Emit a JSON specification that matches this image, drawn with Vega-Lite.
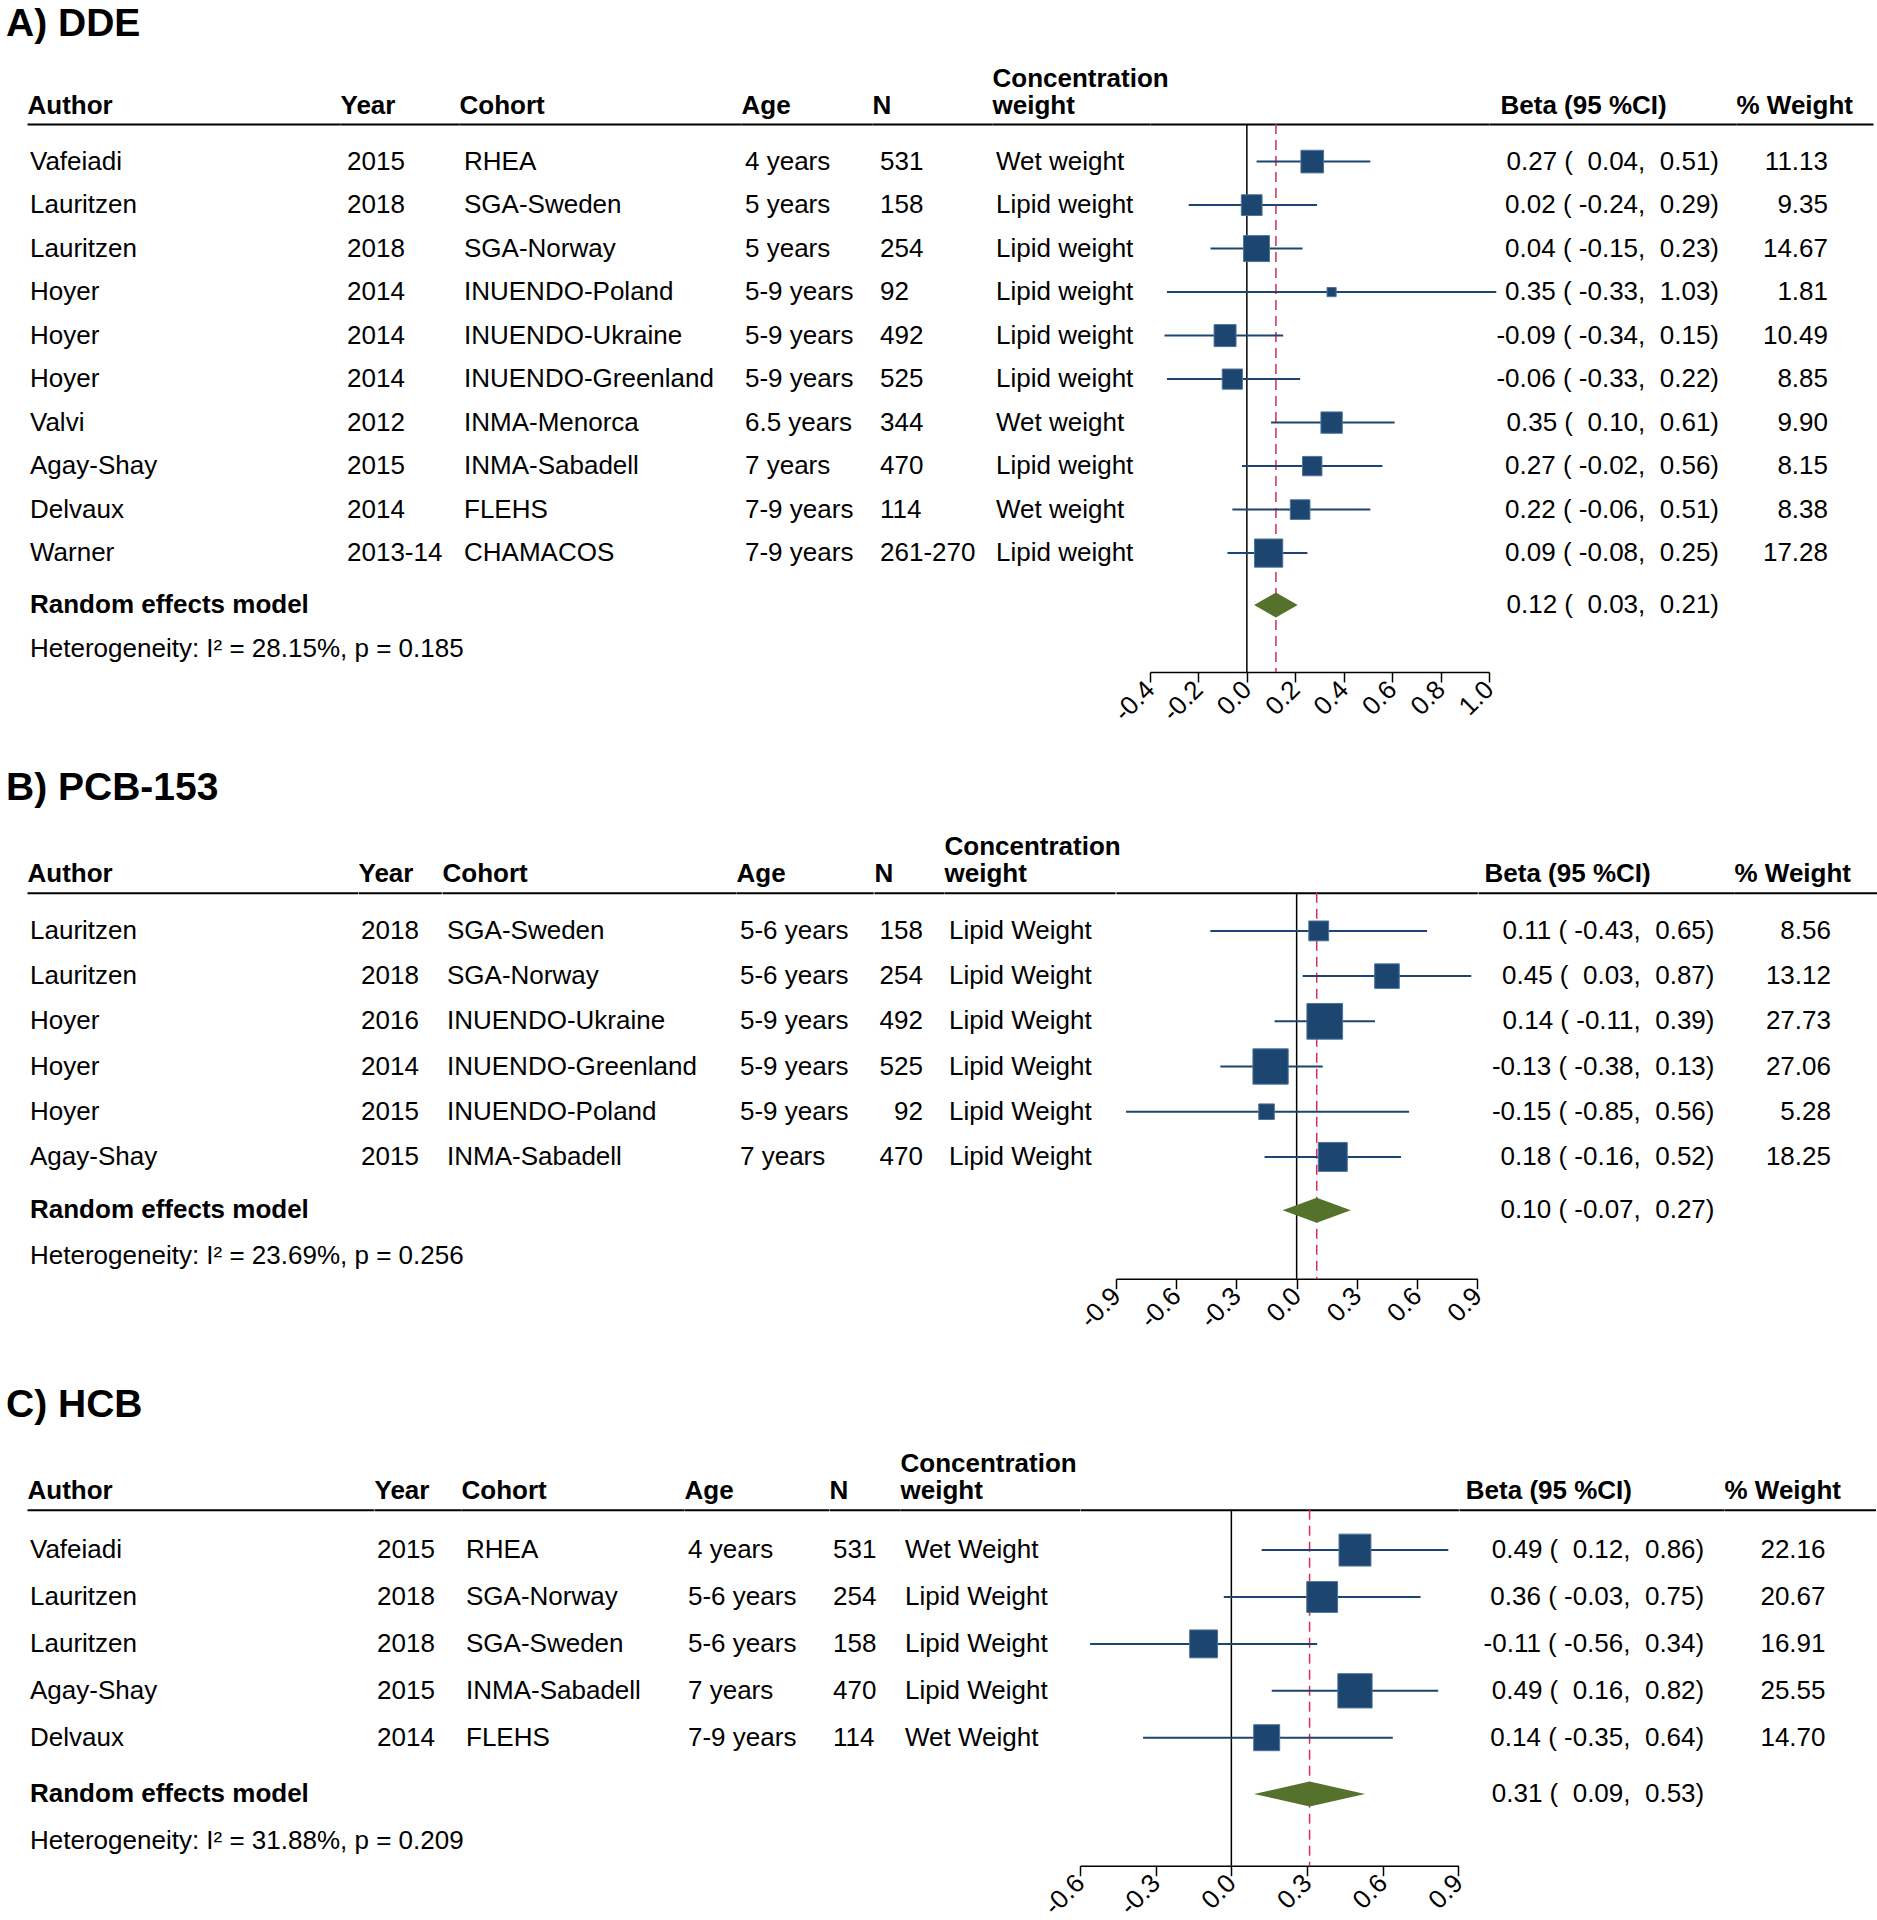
{
"$schema": "https://vega.github.io/schema/vega-lite/v6.json",
"background": "white",
"padding": {"left": 6, "top": 5, "right": 4, "bottom": 0},
"config": {
 "view": {"stroke": null},
 "font": "Liberation Sans",
 "text": {"font": "Liberation Sans", "fontSize": 26, "color": "#000000", "baseline": "middle"},
 "title": {"anchor": "start", "font": "Liberation Sans", "fontSize": 39, "fontWeight": "bold", "color": "#000000", "dx": -21, "baseline": "alphabetic", "frame": "bounds"},
 "axisTop": {"domainColor": "#000000", "domainWidth": 2, "ticks": false, "labels": false, "grid": false, "titleFont": "Liberation Sans", "titleFontSize": 26, "titleFontWeight": "bold", "titleColor": "#000000", "titleAnchor": "start", "titleAlign": "left", "titleBaseline": "bottom", "titlePadding": 6, "titleLineHeight": 27},
 "axisBottom": {"domainColor": "#000000", "domainWidth": 1.5, "tickColor": "#000000", "tickWidth": 1.5, "tickSize": 10, "labelFont": "Liberation Sans", "labelFontSize": 26, "labelColor": "#000000", "labelPadding": 3, "grid": false, "labelFlush": false, "labelOverlap": false, "labelBound": false}
},
"datasets": {
 "A": [
  {"row":"1","author":"Vafeiadi","year":"2015","cohort":"RHEA","age":"4 years","n":"531","conc":"Wet weight","est":0.27,"lo":0.04,"hi":0.51,"beta":"0.27\u00a0(\u00a0\u00a00.04,\u00a0\u00a00.51)","w":11.13},
  {"row":"2","author":"Lauritzen","year":"2018","cohort":"SGA-Sweden","age":"5 years","n":"158","conc":"Lipid weight","est":0.02,"lo":-0.24,"hi":0.29,"beta":"0.02\u00a0(\u00a0-0.24,\u00a0\u00a00.29)","w":9.35},
  {"row":"3","author":"Lauritzen","year":"2018","cohort":"SGA-Norway","age":"5 years","n":"254","conc":"Lipid weight","est":0.04,"lo":-0.15,"hi":0.23,"beta":"0.04\u00a0(\u00a0-0.15,\u00a0\u00a00.23)","w":14.67},
  {"row":"4","author":"Hoyer","year":"2014","cohort":"INUENDO-Poland","age":"5-9 years","n":"92","conc":"Lipid weight","est":0.35,"lo":-0.33,"hi":1.03,"beta":"0.35\u00a0(\u00a0-0.33,\u00a0\u00a01.03)","w":1.81},
  {"row":"5","author":"Hoyer","year":"2014","cohort":"INUENDO-Ukraine","age":"5-9 years","n":"492","conc":"Lipid weight","est":-0.09,"lo":-0.34,"hi":0.15,"beta":"-0.09\u00a0(\u00a0-0.34,\u00a0\u00a00.15)","w":10.49},
  {"row":"6","author":"Hoyer","year":"2014","cohort":"INUENDO-Greenland","age":"5-9 years","n":"525","conc":"Lipid weight","est":-0.06,"lo":-0.33,"hi":0.22,"beta":"-0.06\u00a0(\u00a0-0.33,\u00a0\u00a00.22)","w":8.85},
  {"row":"7","author":"Valvi","year":"2012","cohort":"INMA-Menorca","age":"6.5 years","n":"344","conc":"Wet weight","est":0.35,"lo":0.10,"hi":0.61,"beta":"0.35\u00a0(\u00a0\u00a00.10,\u00a0\u00a00.61)","w":9.90},
  {"row":"8","author":"Agay-Shay","year":"2015","cohort":"INMA-Sabadell","age":"7 years","n":"470","conc":"Lipid weight","est":0.27,"lo":-0.02,"hi":0.56,"beta":"0.27\u00a0(\u00a0-0.02,\u00a0\u00a00.56)","w":8.15},
  {"row":"9","author":"Delvaux","year":"2014","cohort":"FLEHS","age":"7-9 years","n":"114","conc":"Wet weight","est":0.22,"lo":-0.06,"hi":0.51,"beta":"0.22\u00a0(\u00a0-0.06,\u00a0\u00a00.51)","w":8.38},
  {"row":"10","author":"Warner","year":"2013-14","cohort":"CHAMACOS","age":"7-9 years","n":"261-270","conc":"Lipid weight","est":0.09,"lo":-0.08,"hi":0.25,"beta":"0.09\u00a0(\u00a0-0.08,\u00a0\u00a00.25)","w":17.28},
  {"row":"RE","author":"Random effects model","est":0.12,"lo":0.03,"hi":0.21,"beta":"0.12\u00a0(\u00a0\u00a00.03,\u00a0\u00a00.21)"},
  {"row":"het","author":"Heterogeneity: I² = 28.15%, p = 0.185"}
 ],
 "B": [
  {"row":"1","author":"Lauritzen","year":"2018","cohort":"SGA-Sweden","age":"5-6 years","n":"158","conc":"Lipid Weight","est":0.11,"lo":-0.43,"hi":0.65,"beta":"0.11\u00a0(\u00a0-0.43,\u00a0\u00a00.65)","w":8.56},
  {"row":"2","author":"Lauritzen","year":"2018","cohort":"SGA-Norway","age":"5-6 years","n":"254","conc":"Lipid Weight","est":0.45,"lo":0.03,"hi":0.87,"beta":"0.45\u00a0(\u00a0\u00a00.03,\u00a0\u00a00.87)","w":13.12},
  {"row":"3","author":"Hoyer","year":"2016","cohort":"INUENDO-Ukraine","age":"5-9 years","n":"492","conc":"Lipid Weight","est":0.14,"lo":-0.11,"hi":0.39,"beta":"0.14\u00a0(\u00a0-0.11,\u00a0\u00a00.39)","w":27.73},
  {"row":"4","author":"Hoyer","year":"2014","cohort":"INUENDO-Greenland","age":"5-9 years","n":"525","conc":"Lipid Weight","est":-0.13,"lo":-0.38,"hi":0.13,"beta":"-0.13\u00a0(\u00a0-0.38,\u00a0\u00a00.13)","w":27.06},
  {"row":"5","author":"Hoyer","year":"2015","cohort":"INUENDO-Poland","age":"5-9 years","n":"92","conc":"Lipid Weight","est":-0.15,"lo":-0.85,"hi":0.56,"beta":"-0.15\u00a0(\u00a0-0.85,\u00a0\u00a00.56)","w":5.28},
  {"row":"6","author":"Agay-Shay","year":"2015","cohort":"INMA-Sabadell","age":"7 years","n":"470","conc":"Lipid Weight","est":0.18,"lo":-0.16,"hi":0.52,"beta":"0.18\u00a0(\u00a0-0.16,\u00a0\u00a00.52)","w":18.25},
  {"row":"RE","author":"Random effects model","est":0.10,"lo":-0.07,"hi":0.27,"beta":"0.10\u00a0(\u00a0-0.07,\u00a0\u00a00.27)"},
  {"row":"het","author":"Heterogeneity: I² = 23.69%, p = 0.256"}
 ],
 "C": [
  {"row":"1","author":"Vafeiadi","year":"2015","cohort":"RHEA","age":"4 years","n":"531","conc":"Wet Weight","est":0.49,"lo":0.12,"hi":0.86,"beta":"0.49\u00a0(\u00a0\u00a00.12,\u00a0\u00a00.86)","w":22.16},
  {"row":"2","author":"Lauritzen","year":"2018","cohort":"SGA-Norway","age":"5-6 years","n":"254","conc":"Lipid Weight","est":0.36,"lo":-0.03,"hi":0.75,"beta":"0.36\u00a0(\u00a0-0.03,\u00a0\u00a00.75)","w":20.67},
  {"row":"3","author":"Lauritzen","year":"2018","cohort":"SGA-Sweden","age":"5-6 years","n":"158","conc":"Lipid Weight","est":-0.11,"lo":-0.56,"hi":0.34,"beta":"-0.11\u00a0(\u00a0-0.56,\u00a0\u00a00.34)","w":16.91},
  {"row":"4","author":"Agay-Shay","year":"2015","cohort":"INMA-Sabadell","age":"7 years","n":"470","conc":"Lipid Weight","est":0.49,"lo":0.16,"hi":0.82,"beta":"0.49\u00a0(\u00a0\u00a00.16,\u00a0\u00a00.82)","w":25.55},
  {"row":"5","author":"Delvaux","year":"2014","cohort":"FLEHS","age":"7-9 years","n":"114","conc":"Wet Weight","est":0.14,"lo":-0.35,"hi":0.64,"beta":"0.14\u00a0(\u00a0-0.35,\u00a0\u00a00.64)","w":14.70},
  {"row":"RE","author":"Random effects model","est":0.31,"lo":0.09,"hi":0.53,"beta":"0.31\u00a0(\u00a0\u00a00.09,\u00a0\u00a00.53)"},
  {"row":"het","author":"Heterogeneity: I² = 31.88%, p = 0.209"}
 ]
},
"spacing": 42.7,
"vconcat": [
 {
  "title": {"text": "A) DDE", "offset": 21},
  "bounds": "flush",
  "spacing": 0,
  "hconcat": [
   {"width": 313, "height": 548, "data": {"name": "A"},
    "encoding": {"x": {"datum": 0, "type": "quantitative", "scale": {"domain": [0, 1]}, "axis": {"orient": "top", "title": ["", "Author"]}},
     "text": {"field": "author", "type": "nominal"}},
    "layer": [
     {"transform": [{"filter": "datum.row != 'RE' && datum.row != 'het'"}], "mark": {"type": "text", "align": "left", "dx": 3},
      "encoding": {"y": {"field": "row", "type": "nominal", "scale": {"type": "point", "domain": ["1","2","3","4","5","6","7","8","9","10","RE","het"], "padding": 0.799, "align": 0.541}, "axis": null}}},
     {"transform": [{"filter": "datum.row == 'RE'"}], "mark": {"type": "text", "align": "left", "dx": 3, "fontWeight": "bold"},
      "encoding": {"y": {"field": "row", "type": "nominal", "scale": {"type": "point", "domain": ["1","2","3","4","5","6","7","8","9","10","RE","het"], "padding": 0.727, "align": 0.641}, "axis": null}}},
     {"transform": [{"filter": "datum.row == 'het'"}], "mark": {"type": "text", "align": "left", "dx": 3},
      "encoding": {"y": {"field": "row", "type": "nominal", "scale": {"type": "point", "domain": ["1","2","3","4","5","6","7","8","9","10","RE","het"], "padding": 0.727, "align": 0.641}, "axis": null}}}
    ],
    "resolve": {"scale": {"y": "independent"}}},
   {"width": 119, "height": 548, "data": {"name": "A"}, "transform": [{"filter": "isValid(datum.year)"}],
    "mark": {"type": "text", "align": "left", "dx": 7},
    "encoding": {"x": {"datum": 0, "type": "quantitative", "scale": {"domain": [0, 1]}, "axis": {"orient": "top", "title": ["", "Year"]}},
     "y": {"field": "row", "type": "nominal", "scale": {"type": "point", "domain": ["1","2","3","4","5","6","7","8","9","10","RE","het"], "padding": 0.799, "align": 0.541}, "axis": null},
     "text": {"field": "year", "type": "nominal"}}},
   {"width": 282, "height": 548, "data": {"name": "A"}, "transform": [{"filter": "isValid(datum.cohort)"}],
    "mark": {"type": "text", "align": "left", "dx": 5},
    "encoding": {"x": {"datum": 0, "type": "quantitative", "scale": {"domain": [0, 1]}, "axis": {"orient": "top", "title": ["", "Cohort"]}},
     "y": {"field": "row", "type": "nominal", "scale": {"type": "point", "domain": ["1","2","3","4","5","6","7","8","9","10","RE","het"], "padding": 0.799, "align": 0.541}, "axis": null},
     "text": {"field": "cohort", "type": "nominal"}}},
   {"width": 131, "height": 548, "data": {"name": "A"}, "transform": [{"filter": "isValid(datum.age)"}],
    "mark": {"type": "text", "align": "left", "dx": 4},
    "encoding": {"x": {"datum": 0, "type": "quantitative", "scale": {"domain": [0, 1]}, "axis": {"orient": "top", "title": ["", "Age"]}},
     "y": {"field": "row", "type": "nominal", "scale": {"type": "point", "domain": ["1","2","3","4","5","6","7","8","9","10","RE","het"], "padding": 0.799, "align": 0.541}, "axis": null},
     "text": {"field": "age", "type": "nominal"}}},
   {"width": 120, "height": 548, "data": {"name": "A"}, "transform": [{"filter": "isValid(datum.n)"}],
    "mark": {"type": "text", "align": "left", "dx": 8},
    "encoding": {"x": {"datum": 0, "type": "quantitative", "scale": {"domain": [0, 1]}, "axis": {"orient": "top", "title": ["", "N"]}},
     "y": {"field": "row", "type": "nominal", "scale": {"type": "point", "domain": ["1","2","3","4","5","6","7","8","9","10","RE","het"], "padding": 0.799, "align": 0.541}, "axis": null},
     "text": {"field": "n", "type": "nominal"}}},
   {"width": 158, "height": 548, "data": {"name": "A"}, "transform": [{"filter": "isValid(datum.conc)"}],
    "mark": {"type": "text", "align": "left", "dx": 4},
    "encoding": {"x": {"datum": 0, "type": "quantitative", "scale": {"domain": [0, 1]}, "axis": {"orient": "top", "title": ["Concentration", "weight"]}},
     "y": {"field": "row", "type": "nominal", "scale": {"type": "point", "domain": ["1","2","3","4","5","6","7","8","9","10","RE","het"], "padding": 0.799, "align": 0.541}, "axis": null},
     "text": {"field": "conc", "type": "nominal"}}},
   {"width": 339, "height": 548,
    "layer": [
     {"data": {"values": [{}]}, "mark": {"type": "rule", "color": "#000000", "strokeWidth": 1.5},
      "encoding": {"x": {"datum": 0, "type": "quantitative", "scale": {"domain": [-0.4, 1.0], "nice": false, "zero": false}, "axis": {"orient": "top", "title": null}}}},
     {"data": {"name": "A"}, "transform": [{"filter": "datum.row == 'RE'"}], "mark": {"type": "rule", "color": "#d62b5a", "strokeWidth": 1.5, "strokeDash": [10, 6]},
      "encoding": {"x": {"field": "est", "type": "quantitative", "scale": {"domain": [-0.4, 1.0], "nice": false, "zero": false}, "axis": null}}},
     {"data": {"name": "A"}, "transform": [{"filter": "isValid(datum.w)"}], "mark": {"type": "rule", "color": "#1c4670", "strokeWidth": 2},
      "encoding": {"x": {"field": "lo", "type": "quantitative", "scale": {"domain": [-0.4, 1.0], "nice": false, "zero": false},
        "axis": {"orient": "bottom", "title": null, "values": [-0.4, -0.2, 0, 0.2, 0.4, 0.6, 0.8, 1.0], "labelExpr": "replace(format(datum.value, '.1f'), '\u2212', '-')", "labelAngle": -45, "labelAlign": "right", "labelBaseline": "middle"}},
       "x2": {"field": "hi"},
       "y": {"field": "row", "type": "nominal", "scale": {"type": "point", "domain": ["1","2","3","4","5","6","7","8","9","10","RE","het"], "padding": 0.799, "align": 0.541}, "axis": null}}},
     {"data": {"name": "A"}, "transform": [{"filter": "isValid(datum.w)"}], "mark": {"type": "square", "filled": true, "color": "#1c4670", "opacity": 1, "stroke": "#4d739b", "strokeWidth": 1},
      "encoding": {"x": {"field": "est", "type": "quantitative", "scale": {"domain": [-0.4, 1.0], "nice": false, "zero": false}, "axis": null},
       "y": {"field": "row", "type": "nominal", "scale": {"type": "point", "domain": ["1","2","3","4","5","6","7","8","9","10","RE","het"], "padding": 0.799, "align": 0.541}, "axis": null},
       "size": {"field": "w", "type": "quantitative", "scale": {"domain": [0, 100], "range": [0, 4600]}, "legend": null}}},
     {"data": {"name": "A"}, "transform": [{"filter": "datum.row == 'RE'"}], "mark": {"type": "point", "shape": "M-1,0L0,-0.573L1,0L0,0.573Z", "size": 1901, "filled": true, "color": "#55722c", "opacity": 1},
      "encoding": {"x": {"field": "est", "type": "quantitative", "scale": {"domain": [-0.4, 1.0], "nice": false, "zero": false}, "axis": null},
       "y": {"field": "row", "type": "nominal", "scale": {"type": "point", "domain": ["1","2","3","4","5","6","7","8","9","10","RE","het"], "padding": 0.727, "align": 0.641}, "axis": null}}}
    ],
    "resolve": {"scale": {"y": "independent"}, "axis": {"x": "independent"}}},
   {"width": 247, "height": 548, "data": {"name": "A"},
    "encoding": {"x": {"datum": 0.9312, "type": "quantitative", "scale": {"domain": [0, 1]}, "axis": {"orient": "top", "title": ["", "Beta (95 %CI)"], "titleX": 11}},
     "text": {"field": "beta", "type": "nominal"}},
    "layer": [
     {"transform": [{"filter": "isValid(datum.w)"}], "mark": {"type": "text", "align": "right"},
      "encoding": {"y": {"field": "row", "type": "nominal", "scale": {"type": "point", "domain": ["1","2","3","4","5","6","7","8","9","10","RE","het"], "padding": 0.799, "align": 0.541}, "axis": null}}},
     {"transform": [{"filter": "datum.row == 'RE'"}], "mark": {"type": "text", "align": "right"},
      "encoding": {"y": {"field": "row", "type": "nominal", "scale": {"type": "point", "domain": ["1","2","3","4","5","6","7","8","9","10","RE","het"], "padding": 0.727, "align": 0.641}, "axis": null}}}
    ],
    "resolve": {"scale": {"y": "independent"}}},
   {"width": 137, "height": 548, "data": {"name": "A"}, "transform": [{"filter": "isValid(datum.w)"}],
    "mark": {"type": "text", "align": "right"},
    "encoding": {"x": {"datum": 0.6715, "type": "quantitative", "scale": {"domain": [0, 1]}, "axis": {"orient": "top", "title": ["", "% Weight"]}},
     "y": {"field": "row", "type": "nominal", "scale": {"type": "point", "domain": ["1","2","3","4","5","6","7","8","9","10","RE","het"], "padding": 0.799, "align": 0.541}, "axis": null},
     "text": {"field": "w", "type": "quantitative", "format": ".2f"}}}
  ]
 },
 {
  "spacing": 53,
  "vconcat": [
   {
    "title": {"text": "B) PCB-153", "offset": 26},
    "bounds": "flush",
    "spacing": 0,
    "hconcat": [
     {"width": 330.5, "height": 386, "data": {"name": "B"},
      "encoding": {"x": {"datum": 0, "type": "quantitative", "scale": {"domain": [0, 1]}, "axis": {"orient": "top", "title": ["", "Author"]}},
       "text": {"field": "author", "type": "nominal"}},
      "layer": [
       {"transform": [{"filter": "datum.row != 'RE' && datum.row != 'het'"}], "mark": {"type": "text", "align": "left", "dx": 3},
        "encoding": {"y": {"field": "row", "type": "nominal", "scale": {"type": "point", "domain": ["1","2","3","4","5","6","RE","het"], "padding": 0.770, "align": 0.549}, "axis": null}}},
       {"transform": [{"filter": "datum.row == 'RE'"}], "mark": {"type": "text", "align": "left", "dx": 3, "fontWeight": "bold"},
        "encoding": {"y": {"field": "row", "type": "nominal", "scale": {"type": "point", "domain": ["1","2","3","4","5","6","RE","het"], "padding": 0.714, "align": 0.653}, "axis": null}}},
       {"transform": [{"filter": "datum.row == 'het'"}], "mark": {"type": "text", "align": "left", "dx": 3},
        "encoding": {"y": {"field": "row", "type": "nominal", "scale": {"type": "point", "domain": ["1","2","3","4","5","6","RE","het"], "padding": 0.714, "align": 0.653}, "axis": null}}}
      ],
      "resolve": {"scale": {"y": "independent"}}},
     {"width": 83.3, "height": 386, "data": {"name": "B"}, "transform": [{"filter": "isValid(datum.year)"}],
      "mark": {"type": "text", "align": "left", "dx": 3},
      "encoding": {"x": {"datum": 0, "type": "quantitative", "scale": {"domain": [0, 1]}, "axis": {"orient": "top", "title": ["", "Year"]}},
       "y": {"field": "row", "type": "nominal", "scale": {"type": "point", "domain": ["1","2","3","4","5","6","RE","het"], "padding": 0.770, "align": 0.549}, "axis": null},
       "text": {"field": "year", "type": "nominal"}}},
     {"width": 293.8, "height": 386, "data": {"name": "B"}, "transform": [{"filter": "isValid(datum.cohort)"}],
      "mark": {"type": "text", "align": "left", "dx": 5},
      "encoding": {"x": {"datum": 0, "type": "quantitative", "scale": {"domain": [0, 1]}, "axis": {"orient": "top", "title": ["", "Cohort"]}},
       "y": {"field": "row", "type": "nominal", "scale": {"type": "point", "domain": ["1","2","3","4","5","6","RE","het"], "padding": 0.770, "align": 0.549}, "axis": null},
       "text": {"field": "cohort", "type": "nominal"}}},
     {"width": 137.2, "height": 386, "data": {"name": "B"}, "transform": [{"filter": "isValid(datum.age)"}],
      "mark": {"type": "text", "align": "left", "dx": 4},
      "encoding": {"x": {"datum": 0, "type": "quantitative", "scale": {"domain": [0, 1]}, "axis": {"orient": "top", "title": ["", "Age"]}},
       "y": {"field": "row", "type": "nominal", "scale": {"type": "point", "domain": ["1","2","3","4","5","6","RE","het"], "padding": 0.770, "align": 0.549}, "axis": null},
       "text": {"field": "age", "type": "nominal"}}},
     {"width": 69.8, "height": 386, "data": {"name": "B"}, "transform": [{"filter": "isValid(datum.n)"}],
      "mark": {"type": "text", "align": "right"},
      "encoding": {"x": {"datum": 0.702, "type": "quantitative", "scale": {"domain": [0, 1]}, "axis": {"orient": "top", "title": ["", "N"]}},
       "y": {"field": "row", "type": "nominal", "scale": {"type": "point", "domain": ["1","2","3","4","5","6","RE","het"], "padding": 0.770, "align": 0.549}, "axis": null},
       "text": {"field": "n", "type": "nominal"}}},
     {"width": 171.1, "height": 386, "data": {"name": "B"}, "transform": [{"filter": "isValid(datum.conc)"}],
      "mark": {"type": "text", "align": "left", "dx": 5},
      "encoding": {"x": {"datum": 0, "type": "quantitative", "scale": {"domain": [0, 1]}, "axis": {"orient": "top", "title": ["Concentration", "weight"]}},
       "y": {"field": "row", "type": "nominal", "scale": {"type": "point", "domain": ["1","2","3","4","5","6","RE","het"], "padding": 0.770, "align": 0.549}, "axis": null},
       "text": {"field": "conc", "type": "nominal"}}},
     {"width": 361.3, "height": 386,
      "layer": [
       {"data": {"values": [{}]}, "mark": {"type": "rule", "color": "#000000", "strokeWidth": 1.5},
        "encoding": {"x": {"datum": 0, "type": "quantitative", "scale": {"domain": [-0.9, 0.9], "nice": false, "zero": false}, "axis": {"orient": "top", "title": null}}}},
       {"data": {"name": "B"}, "transform": [{"filter": "datum.row == 'RE'"}], "mark": {"type": "rule", "color": "#d62b5a", "strokeWidth": 1.5, "strokeDash": [10, 6]},
        "encoding": {"x": {"field": "est", "type": "quantitative", "scale": {"domain": [-0.9, 0.9], "nice": false, "zero": false}, "axis": null}}},
       {"data": {"name": "B"}, "transform": [{"filter": "isValid(datum.w)"}], "mark": {"type": "rule", "color": "#1c4670", "strokeWidth": 2},
        "encoding": {"x": {"field": "lo", "type": "quantitative", "scale": {"domain": [-0.9, 0.9], "nice": false, "zero": false},
          "axis": {"orient": "bottom", "title": null, "values": [-0.9, -0.6, -0.3, 0, 0.3, 0.6, 0.9], "labelExpr": "replace(format(datum.value, '.1f'), '\u2212', '-')", "labelAngle": -45, "labelAlign": "right", "labelBaseline": "middle"}},
         "x2": {"field": "hi"},
         "y": {"field": "row", "type": "nominal", "scale": {"type": "point", "domain": ["1","2","3","4","5","6","RE","het"], "padding": 0.770, "align": 0.549}, "axis": null}}},
       {"data": {"name": "B"}, "transform": [{"filter": "isValid(datum.w)"}], "mark": {"type": "square", "filled": true, "color": "#1c4670", "opacity": 1, "stroke": "#4d739b", "strokeWidth": 1},
        "encoding": {"x": {"field": "est", "type": "quantitative", "scale": {"domain": [-0.9, 0.9], "nice": false, "zero": false}, "axis": null},
         "y": {"field": "row", "type": "nominal", "scale": {"type": "point", "domain": ["1","2","3","4","5","6","RE","het"], "padding": 0.770, "align": 0.549}, "axis": null},
         "size": {"field": "w", "type": "quantitative", "scale": {"domain": [0, 100], "range": [0, 3200]}, "legend": null}}},
       {"data": {"name": "B"}, "transform": [{"filter": "datum.row == 'RE'"}], "mark": {"type": "point", "shape": "M-1,0L0,-0.367L1,0L0,0.367Z", "size": 4651, "filled": true, "color": "#55722c", "opacity": 1},
        "encoding": {"x": {"field": "est", "type": "quantitative", "scale": {"domain": [-0.9, 0.9], "nice": false, "zero": false}, "axis": null},
         "y": {"field": "row", "type": "nominal", "scale": {"type": "point", "domain": ["1","2","3","4","5","6","RE","het"], "padding": 0.714, "align": 0.653}, "axis": null}}}
      ],
      "resolve": {"scale": {"y": "independent"}, "axis": {"x": "independent"}}},
     {"width": 256, "height": 386, "data": {"name": "B"},
      "encoding": {"x": {"datum": 0.9238, "type": "quantitative", "scale": {"domain": [0, 1]}, "axis": {"orient": "top", "title": ["", "Beta (95 %CI)"], "titleX": 6}},
       "text": {"field": "beta", "type": "nominal"}},
      "layer": [
       {"transform": [{"filter": "isValid(datum.w)"}], "mark": {"type": "text", "align": "right"},
        "encoding": {"y": {"field": "row", "type": "nominal", "scale": {"type": "point", "domain": ["1","2","3","4","5","6","RE","het"], "padding": 0.770, "align": 0.549}, "axis": null}}},
       {"transform": [{"filter": "datum.row == 'RE'"}], "mark": {"type": "text", "align": "right"},
        "encoding": {"y": {"field": "row", "type": "nominal", "scale": {"type": "point", "domain": ["1","2","3","4","5","6","RE","het"], "padding": 0.714, "align": 0.653}, "axis": null}}}
      ],
      "resolve": {"scale": {"y": "independent"}}},
     {"width": 143, "height": 386, "data": {"name": "B"}, "transform": [{"filter": "isValid(datum.w)"}],
      "mark": {"type": "text", "align": "right"},
      "encoding": {"x": {"datum": 0.678, "type": "quantitative", "scale": {"domain": [0, 1]}, "axis": {"orient": "top", "title": ["", "% Weight"]}},
       "y": {"field": "row", "type": "nominal", "scale": {"type": "point", "domain": ["1","2","3","4","5","6","RE","het"], "padding": 0.770, "align": 0.549}, "axis": null},
       "text": {"field": "w", "type": "quantitative", "format": ".2f"}}}
    ]
   },
   {
    "title": {"text": "C) HCB", "offset": 26},
    "bounds": "flush",
    "spacing": 0,
    "hconcat": [
     {"width": 346.4, "height": 356, "data": {"name": "C"},
      "encoding": {"x": {"datum": 0, "type": "quantitative", "scale": {"domain": [0, 1]}, "axis": {"orient": "top", "title": ["", "Author"]}},
       "text": {"field": "author", "type": "nominal"}},
      "layer": [
       {"transform": [{"filter": "datum.row != 'RE' && datum.row != 'het'"}], "mark": {"type": "text", "align": "left", "dx": 3},
        "encoding": {"y": {"field": "row", "type": "nominal", "scale": {"type": "point", "domain": ["1","2","3","4","5","RE","het"], "padding": 0.795, "align": 0.5416}, "axis": null}}},
       {"transform": [{"filter": "datum.row == 'RE'"}], "mark": {"type": "text", "align": "left", "dx": 3, "fontWeight": "bold"},
        "encoding": {"y": {"field": "row", "type": "nominal", "scale": {"type": "point", "domain": ["1","2","3","4","5","RE","het"], "padding": 0.803, "align": 0.669}, "axis": null}}},
       {"transform": [{"filter": "datum.row == 'het'"}], "mark": {"type": "text", "align": "left", "dx": 3},
        "encoding": {"y": {"field": "row", "type": "nominal", "scale": {"type": "point", "domain": ["1","2","3","4","5","RE","het"], "padding": 0.803, "align": 0.669}, "axis": null}}}
      ],
      "resolve": {"scale": {"y": "independent"}}},
     {"width": 87, "height": 356, "data": {"name": "C"}, "transform": [{"filter": "isValid(datum.year)"}],
      "mark": {"type": "text", "align": "left", "dx": 3},
      "encoding": {"x": {"datum": 0, "type": "quantitative", "scale": {"domain": [0, 1]}, "axis": {"orient": "top", "title": ["", "Year"]}},
       "y": {"field": "row", "type": "nominal", "scale": {"type": "point", "domain": ["1","2","3","4","5","RE","het"], "padding": 0.795, "align": 0.5416}, "axis": null},
       "text": {"field": "year", "type": "nominal"}}},
     {"width": 222.8, "height": 356, "data": {"name": "C"}, "transform": [{"filter": "isValid(datum.cohort)"}],
      "mark": {"type": "text", "align": "left", "dx": 5},
      "encoding": {"x": {"datum": 0, "type": "quantitative", "scale": {"domain": [0, 1]}, "axis": {"orient": "top", "title": ["", "Cohort"]}},
       "y": {"field": "row", "type": "nominal", "scale": {"type": "point", "domain": ["1","2","3","4","5","RE","het"], "padding": 0.795, "align": 0.5416}, "axis": null},
       "text": {"field": "cohort", "type": "nominal"}}},
     {"width": 144.5, "height": 356, "data": {"name": "C"}, "transform": [{"filter": "isValid(datum.age)"}],
      "mark": {"type": "text", "align": "left", "dx": 4},
      "encoding": {"x": {"datum": 0, "type": "quantitative", "scale": {"domain": [0, 1]}, "axis": {"orient": "top", "title": ["", "Age"]}},
       "y": {"field": "row", "type": "nominal", "scale": {"type": "point", "domain": ["1","2","3","4","5","RE","het"], "padding": 0.795, "align": 0.5416}, "axis": null},
       "text": {"field": "age", "type": "nominal"}}},
     {"width": 71, "height": 356, "data": {"name": "C"}, "transform": [{"filter": "isValid(datum.n)"}],
      "mark": {"type": "text", "align": "left", "dx": 4},
      "encoding": {"x": {"datum": 0, "type": "quantitative", "scale": {"domain": [0, 1]}, "axis": {"orient": "top", "title": ["", "N"]}},
       "y": {"field": "row", "type": "nominal", "scale": {"type": "point", "domain": ["1","2","3","4","5","RE","het"], "padding": 0.795, "align": 0.5416}, "axis": null},
       "text": {"field": "n", "type": "nominal"}}},
     {"width": 179.6, "height": 356, "data": {"name": "C"}, "transform": [{"filter": "isValid(datum.conc)"}],
      "mark": {"type": "text", "align": "left", "dx": 5},
      "encoding": {"x": {"datum": 0, "type": "quantitative", "scale": {"domain": [0, 1]}, "axis": {"orient": "top", "title": ["Concentration", "weight"]}},
       "y": {"field": "row", "type": "nominal", "scale": {"type": "point", "domain": ["1","2","3","4","5","RE","het"], "padding": 0.795, "align": 0.5416}, "axis": null},
       "text": {"field": "conc", "type": "nominal"}}},
     {"width": 378.4, "height": 356,
      "layer": [
       {"data": {"values": [{}]}, "mark": {"type": "rule", "color": "#000000", "strokeWidth": 1.5},
        "encoding": {"x": {"datum": 0, "type": "quantitative", "scale": {"domain": [-0.6, 0.9], "nice": false, "zero": false}, "axis": {"orient": "top", "title": null}}}},
       {"data": {"name": "C"}, "transform": [{"filter": "datum.row == 'RE'"}], "mark": {"type": "rule", "color": "#d62b5a", "strokeWidth": 1.5, "strokeDash": [10, 6]},
        "encoding": {"x": {"field": "est", "type": "quantitative", "scale": {"domain": [-0.6, 0.9], "nice": false, "zero": false}, "axis": null}}},
       {"data": {"name": "C"}, "transform": [{"filter": "isValid(datum.w)"}], "mark": {"type": "rule", "color": "#1c4670", "strokeWidth": 2},
        "encoding": {"x": {"field": "lo", "type": "quantitative", "scale": {"domain": [-0.6, 0.9], "nice": false, "zero": false},
          "axis": {"orient": "bottom", "title": null, "values": [-0.6, -0.3, 0, 0.3, 0.6, 0.9], "labelExpr": "replace(format(datum.value, '.1f'), '\u2212', '-')", "labelAngle": -45, "labelAlign": "right", "labelBaseline": "middle"}},
         "x2": {"field": "hi"},
         "y": {"field": "row", "type": "nominal", "scale": {"type": "point", "domain": ["1","2","3","4","5","RE","het"], "padding": 0.795, "align": 0.5416}, "axis": null}}},
       {"data": {"name": "C"}, "transform": [{"filter": "isValid(datum.w)"}], "mark": {"type": "square", "filled": true, "color": "#1c4670", "opacity": 1, "stroke": "#4d739b", "strokeWidth": 1},
        "encoding": {"x": {"field": "est", "type": "quantitative", "scale": {"domain": [-0.6, 0.9], "nice": false, "zero": false}, "axis": null},
         "y": {"field": "row", "type": "nominal", "scale": {"type": "point", "domain": ["1","2","3","4","5","RE","het"], "padding": 0.795, "align": 0.5416}, "axis": null},
         "size": {"field": "w", "type": "quantitative", "scale": {"domain": [0, 100], "range": [0, 3700]}, "legend": null}}},
       {"data": {"name": "C"}, "transform": [{"filter": "datum.row == 'RE'"}], "mark": {"type": "point", "shape": "M-1,0L0,-0.225L1,0L0,0.225Z", "size": 12321, "filled": true, "color": "#55722c", "opacity": 1},
        "encoding": {"x": {"field": "est", "type": "quantitative", "scale": {"domain": [-0.6, 0.9], "nice": false, "zero": false}, "axis": null},
         "y": {"field": "row", "type": "nominal", "scale": {"type": "point", "domain": ["1","2","3","4","5","RE","het"], "padding": 0.803, "align": 0.669}, "axis": null}}}
      ],
      "resolve": {"scale": {"y": "independent"}, "axis": {"x": "independent"}}},
     {"width": 264.8, "height": 356, "data": {"name": "C"},
      "encoding": {"x": {"datum": 0.926, "type": "quantitative", "scale": {"domain": [0, 1]}, "axis": {"orient": "top", "title": ["", "Beta (95 %CI)"], "titleX": 6.3}},
       "text": {"field": "beta", "type": "nominal"}},
      "layer": [
       {"transform": [{"filter": "isValid(datum.w)"}], "mark": {"type": "text", "align": "right"},
        "encoding": {"y": {"field": "row", "type": "nominal", "scale": {"type": "point", "domain": ["1","2","3","4","5","RE","het"], "padding": 0.795, "align": 0.5416}, "axis": null}}},
       {"transform": [{"filter": "datum.row == 'RE'"}], "mark": {"type": "text", "align": "right"},
        "encoding": {"y": {"field": "row", "type": "nominal", "scale": {"type": "point", "domain": ["1","2","3","4","5","RE","het"], "padding": 0.803, "align": 0.669}, "axis": null}}}
      ],
      "resolve": {"scale": {"y": "independent"}}},
     {"width": 151.5, "height": 356, "data": {"name": "C"}, "transform": [{"filter": "isValid(datum.w)"}],
      "mark": {"type": "text", "align": "right"},
      "encoding": {"x": {"datum": 0.67, "type": "quantitative", "scale": {"domain": [0, 1]}, "axis": {"orient": "top", "title": ["", "% Weight"]}},
       "y": {"field": "row", "type": "nominal", "scale": {"type": "point", "domain": ["1","2","3","4","5","RE","het"], "padding": 0.795, "align": 0.5416}, "axis": null},
       "text": {"field": "w", "type": "quantitative", "format": ".2f"}}}
    ]
   }
  ]
 }
]
}
